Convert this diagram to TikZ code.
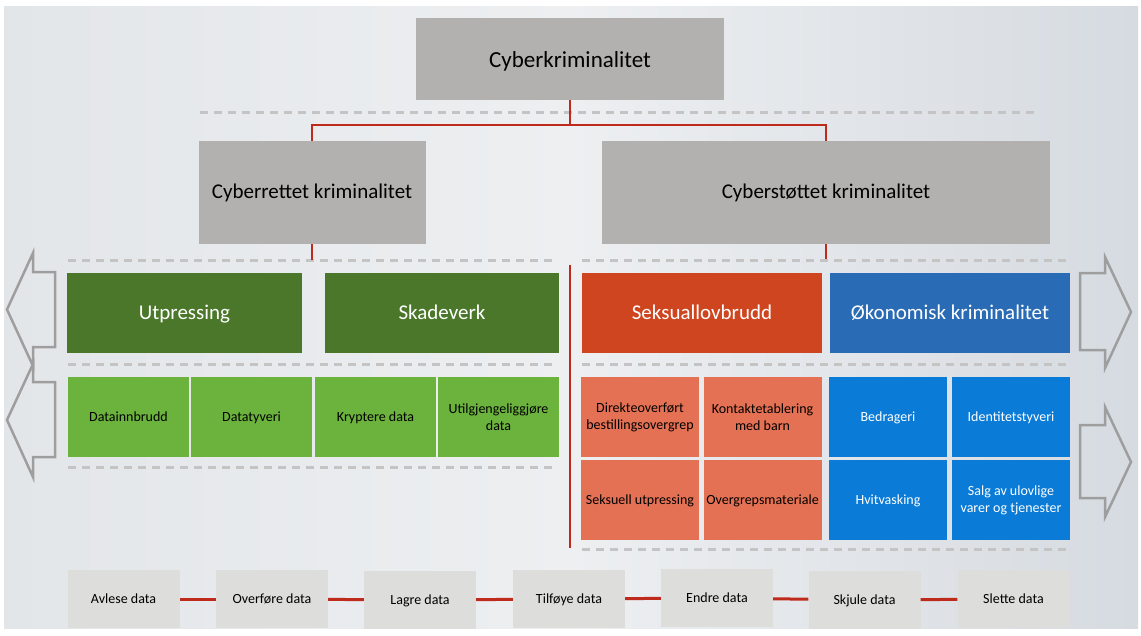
\documentclass[tikz,border=0pt]{standalone}
\usepackage{fontspec}
\setmainfont{Carlito}
\definecolor{bgleft}{HTML}{E3E6E9}
\definecolor{bgmid}{HTML}{EDEFF1}
\definecolor{bgright}{HTML}{D6DBE1}
\definecolor{boxgrey}{HTML}{B3B1AF}
\definecolor{stepgrey}{HTML}{DDDDDB}
\definecolor{linered}{HTML}{BE2A1C}
\definecolor{dashgrey}{HTML}{C4C4C4}
\definecolor{arrowgrey}{HTML}{9E9E9E}
\definecolor{darkgreen}{HTML}{4A7729}
\definecolor{lightgreen}{HTML}{6CB33E}
\definecolor{darkorange}{HTML}{CF4520}
\definecolor{lightorange}{HTML}{E47154}
\definecolor{darkblue}{HTML}{2A6BB5}
\definecolor{lightblue}{HTML}{0A7BD7}
\begin{document}
\begin{tikzpicture}[x=1pt,y=-1pt,
  guide/.style={draw=dashgrey,line width=3pt,dash pattern=on 8pt off 6pt},
  bigarrow/.style={draw=arrowgrey,line width=2.5pt,line join=miter},
  txtbig/.style={font=\fontsize{23}{28}\selectfont,text height=21pt,text depth=5pt},
  txtmid/.style={font=\fontsize{21}{25}\selectfont,text height=16.8pt,text depth=4.2pt},
  txtsmall/.style={font=\fontsize{14}{17}\selectfont,text height=11.2pt,text depth=2.8pt},
  txttwo/.style={align=center,text height={},text depth={}}]
  \useasboundingbox (0,0) rectangle (1141,635);
  \shade[left color=bgleft,right color=bgright,middle color=bgmid] (4,6) rectangle (1138,628);
  % dashed guides
  \draw[guide] (200,112) -- (1040,112);
  \draw[guide] (68,260) -- (557,260);
  \draw[guide] (582,260) -- (1070,260);
  \draw[guide] (68,364) -- (557,364);
  \draw[guide] (582,364) -- (1070,364);
  \draw[guide] (68,467) -- (557,467);
  \draw[guide] (582,549) -- (1070,549);
  % side arrows
  \draw[bigarrow] (55,272) -- (33,272) -- (33,253) -- (7,309.5) -- (33,366) -- (33,347) -- (55,347) -- cycle;
  \draw[bigarrow] (55,382) -- (33,382) -- (33,364) -- (7,420) -- (33,477) -- (33,457) -- (55,457) -- cycle;
  \draw[bigarrow] (1080,273) -- (1105,273) -- (1105,257) -- (1131,312) -- (1105,368) -- (1105,350) -- (1080,350) -- cycle;
  \draw[bigarrow] (1080,425) -- (1105,425) -- (1105,407) -- (1131,462) -- (1105,517) -- (1105,498) -- (1080,498) -- cycle;
  \begin{scope}[every node/.style={fill=boxgrey,text=black,txtmid,minimum height=103pt}]
  \node[minimum width=308pt,minimum height=82pt,txtbig] (cyber) at (570,59) {Cyberkriminalitet};
  \node[minimum width=227pt] (rettet) at (312,192.5) {Cyberrettet kriminalitet};
  \node[minimum width=448pt] (stottet) at (826,192.5) {Cyberstøttet kriminalitet};
  \end{scope}
  \begin{scope}[every node/.style={text=white,txtmid,minimum height=80pt}]
  \node[fill=darkgreen,minimum width=235pt] (utpress) at (184.5,313) {Utpressing};
  \node[fill=darkgreen,minimum width=234pt] (skade) at (442,313) {Skadeverk};
  \node[fill=darkorange,minimum width=240pt] (seksual) at (702,313) {Seksuallovbrudd};
  \node[fill=darkblue,minimum width=240pt] (okonomi) at (950,313) {Økonomisk kriminalitet};
  \end{scope}
  \begin{scope}[every node/.style={fill=lightgreen,text=black,txtsmall,inner sep=1pt,minimum width=121pt,minimum height=80pt}]
  \node (innbrudd) at (128.5,417) {Datainnbrudd};
  \node (tyveri) at (251.5,417) {Datatyveri};
  \node (krypt) at (375.5,417) {Kryptere data};
  \node[txttwo] (utilgj) at (498.5,417) {Utilgjengeliggjøre\\data};
  \end{scope}
  \begin{scope}[every node/.style={fill=lightorange,text=black,txtsmall,inner sep=1pt,minimum width=118pt,minimum height=80pt}]
  \node[txttwo] (direkte) at (640,417) {Direkteoverført\\bestillingsovergrep};
  \node[txttwo] (kontakt) at (762.5,417) {Kontaktetablering\\med barn};
  \node (sekutp) at (640,500) {Seksuell utpressing};
  \node (materiale) at (762.5,500) {Overgrepsmateriale};
  \end{scope}
  \begin{scope}[every node/.style={fill=lightblue,text=white,txtsmall,inner sep=1pt,minimum width=118pt,minimum height=80pt}]
  \node (bedrag) at (888,417) {Bedrageri};
  \node (identitet) at (1011,417) {Identitetstyveri};
  \node (hvitvask) at (888,500) {Hvitvasking};
  \node[txttwo] (salg) at (1011,500) {Salg av ulovlige\\varer og tjenester};
  \end{scope}
  \begin{scope}[every node/.style={fill=stepgrey,text=black,txtsmall,minimum width=112pt,minimum height=58pt}]
  \node (avlese) at (123.5,599) {Avlese data};
  \node (overfore) at (272,599) {Overføre data};
  \node (lagre) at (420,600) {Lagre data};
  \node (tilfoye) at (569,599) {Tilføye data};
  \node (endre) at (717,598) {Endre data};
  \node (skjule) at (864.5,600) {Skjule data};
  \node (slette) at (1013.5,599) {Slette data};
  \end{scope}
  % red tree lines
  \coordinate (split) at (570,125);
  \coordinate (stubA) at (312,260);
  \coordinate (stubB) at (826,259);
  \coordinate (sepTop) at (570,265);
  \coordinate (sepBot) at (570,548);
  \begin{scope}[line width=2pt,draw=linered]
  \draw (cyber) -- (split) -| (rettet.north);
  \draw (split) -| (stottet.north);
  \draw (rettet) -- (stubA);
  \draw (stottet) -- (stubB);
  \draw (sepTop) -- (sepBot);
  \end{scope}
  \begin{scope}[every edge/.style={draw=linered,line width=3pt}]
  \path (avlese) edge (overfore);
  \path (overfore) edge (lagre);
  \path (lagre) edge (tilfoye);
  \path (tilfoye) edge (endre);
  \path (endre) edge (skjule);
  \path (skjule) edge (slette);
  \end{scope}
\end{tikzpicture}
\end{document}
